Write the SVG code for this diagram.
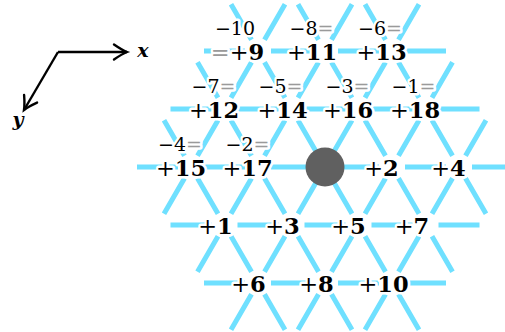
<svg xmlns="http://www.w3.org/2000/svg" width="505" height="332" viewBox="0 0 505 332">
<defs>
<style>
.e{stroke:#6fe0ff;stroke-width:5;fill:none;stroke-linecap:butt}
.ax{stroke:#000;stroke-width:2.4;fill:none}
text{font-family:"DejaVu Serif","Liberation Serif",serif;paint-order:stroke;stroke:#fff;stroke-width:5px;stroke-linejoin:round;text-anchor:middle;fill:#000}
.b{font-size:22.5px;font-weight:bold}
.p{font-weight:normal}
.u{font-size:19px;font-weight:normal}
.g{fill:#9a9a9a}
.axl{font-size:19px;font-weight:bold;font-style:italic;stroke:none}
</style>
<marker id="ah" viewBox="-16 -10 20 20" markerWidth="20" markerHeight="20" refX="0" refY="0" orient="auto" markerUnits="userSpaceOnUse">
<path d="M-13,-7.5 Q-5,-2 0,0 Q-5,2 -13,7.5" fill="none" stroke="#000" stroke-width="2.4" stroke-linecap="round"/>
</marker>
</defs>
<rect width="505" height="332" fill="#fff"/>
<g id="connectors" class="e">
<path d="M204,51H245M271,51H312M338,51H379M405,51H446"/>
<path d="M170.5,109H211.5M237.5,109H278.5M304.5,109H345.5M371.5,109H412.5M438.5,109H479.5"/>
<path d="M137,167H178M204,167H245M271,167H312M338,167H379M405,167H446M472,167H513"/>
<path d="M170.5,225H211.5M237.5,225H278.5M304.5,225H345.5M371.5,225H412.5M438.5,225H479.5"/>
<path d="M204,283H245M271,283H312M338,283H379M405,283H446"/>
<path d="M231,4.26L251.5,39.74M298,4.26L318.5,39.74M365,4.26L385.5,39.74M285,4.26L264.5,39.74M352,4.26L331.5,39.74M419,4.26L398.5,39.74"/>
<path d="M197.5,62.26L218,97.74M264.5,62.26L285,97.74M331.5,62.26L352,97.74M398.5,62.26L419,97.74M251.5,62.26L231,97.74M318.5,62.26L298,97.74M385.5,62.26L365,97.74M452.5,62.26L432,97.74"/>
<path d="M164,120.26L184.5,155.74M231,120.26L251.5,155.74M298,120.26L318.5,155.74M365,120.26L385.5,155.74M432,120.26L452.5,155.74M218,120.26L197.5,155.74M285,120.26L264.5,155.74M352,120.26L331.5,155.74M419,120.26L398.5,155.74M486,120.26L465.5,155.74"/>
<path d="M197.5,178.26L218,213.74M264.5,178.26L285,213.74M331.5,178.26L352,213.74M398.5,178.26L419,213.74M465.5,178.26L486,213.74M184.5,178.26L164,213.74M251.5,178.26L231,213.74M318.5,178.26L298,213.74M385.5,178.26L365,213.74M452.5,178.26L432,213.74"/>
<path d="M231,236.26L251.5,271.74M298,236.26L318.5,271.74M365,236.26L385.5,271.74M432,236.26L452.5,271.74M218,236.26L197.5,271.74M285,236.26L264.5,271.74M352,236.26L331.5,271.74M419,236.26L398.5,271.74"/>
<path d="M264.5,294.26L285,329.74M331.5,294.26L352,329.74M398.5,294.26L419,329.74M251.5,294.26L231,329.74M318.5,294.26L298,329.74M385.5,294.26L365,329.74"/>
</g>
<g id="axes">
<path class="ax" d="M58,52H127" marker-end="url(#ah)"/>
<path class="ax" d="M58,52L24,110" marker-end="url(#ah)"/>
<text class="axl" x="143" y="57">x</text>
<text class="axl" x="18" y="126">y</text>
</g>
<g id="origin"><circle cx="325" cy="167" r="19.5" fill="#606060"/></g>
<g id="n9"><text><tspan class="u" x="235" y="35">−10</tspan><tspan class="b" x="237.5" y="60"><tspan class="p g">=</tspan><tspan class="p">+</tspan>9</tspan></text></g>
<g id="n11"><text><tspan class="u" x="311.5" y="35">−8<tspan class="g">=</tspan></tspan><tspan class="b" x="312" y="60"><tspan class="p">+</tspan>11</tspan></text></g>
<g id="n13"><text><tspan class="u" x="380" y="35">−6<tspan class="g">=</tspan></tspan><tspan class="b" x="381.5" y="60"><tspan class="p">+</tspan>13</tspan></text></g>
<g id="n12"><text><tspan class="u" x="213.5" y="93">−7<tspan class="g">=</tspan></tspan><tspan class="b" x="214" y="118"><tspan class="p">+</tspan>12</tspan></text></g>
<g id="n14"><text><tspan class="u" x="280.5" y="93">−5<tspan class="g">=</tspan></tspan><tspan class="b" x="282.5" y="118"><tspan class="p">+</tspan>14</tspan></text></g>
<g id="n16"><text><tspan class="u" x="347.5" y="93">−3<tspan class="g">=</tspan></tspan><tspan class="b" x="348" y="118"><tspan class="p">+</tspan>16</tspan></text></g>
<g id="n18"><text><tspan class="u" x="413.5" y="93">−1<tspan class="g">=</tspan></tspan><tspan class="b" x="415" y="118"><tspan class="p">+</tspan>18</tspan></text></g>
<g id="n15"><text><tspan class="u" x="180" y="151">−4<tspan class="g">=</tspan></tspan><tspan class="b" x="181" y="176"><tspan class="p">+</tspan>15</tspan></text></g>
<g id="n17"><text><tspan class="u" x="247.5" y="151">−2<tspan class="g">=</tspan></tspan><tspan class="b" x="247.5" y="176"><tspan class="p">+</tspan>17</tspan></text></g>
<g id="n2"><text class="b" x="381.5" y="176"><tspan class="p">+</tspan>2</text></g>
<g id="n4"><text class="b" x="448.5" y="176"><tspan class="p">+</tspan>4</text></g>
<g id="n1"><text class="b" x="215.5" y="234"><tspan class="p">+</tspan>1</text></g>
<g id="n3"><text class="b" x="282.5" y="234"><tspan class="p">+</tspan>3</text></g>
<g id="n5"><text class="b" x="348.5" y="234"><tspan class="p">+</tspan>5</text></g>
<g id="n7"><text class="b" x="412" y="234"><tspan class="p">+</tspan>7</text></g>
<g id="n6"><text class="b" x="248.5" y="292"><tspan class="p">+</tspan>6</text></g>
<g id="n8"><text class="b" x="316.5" y="292"><tspan class="p">+</tspan>8</text></g>
<g id="n10"><text class="b" x="383.5" y="292"><tspan class="p">+</tspan>10</text></g>
</svg>
